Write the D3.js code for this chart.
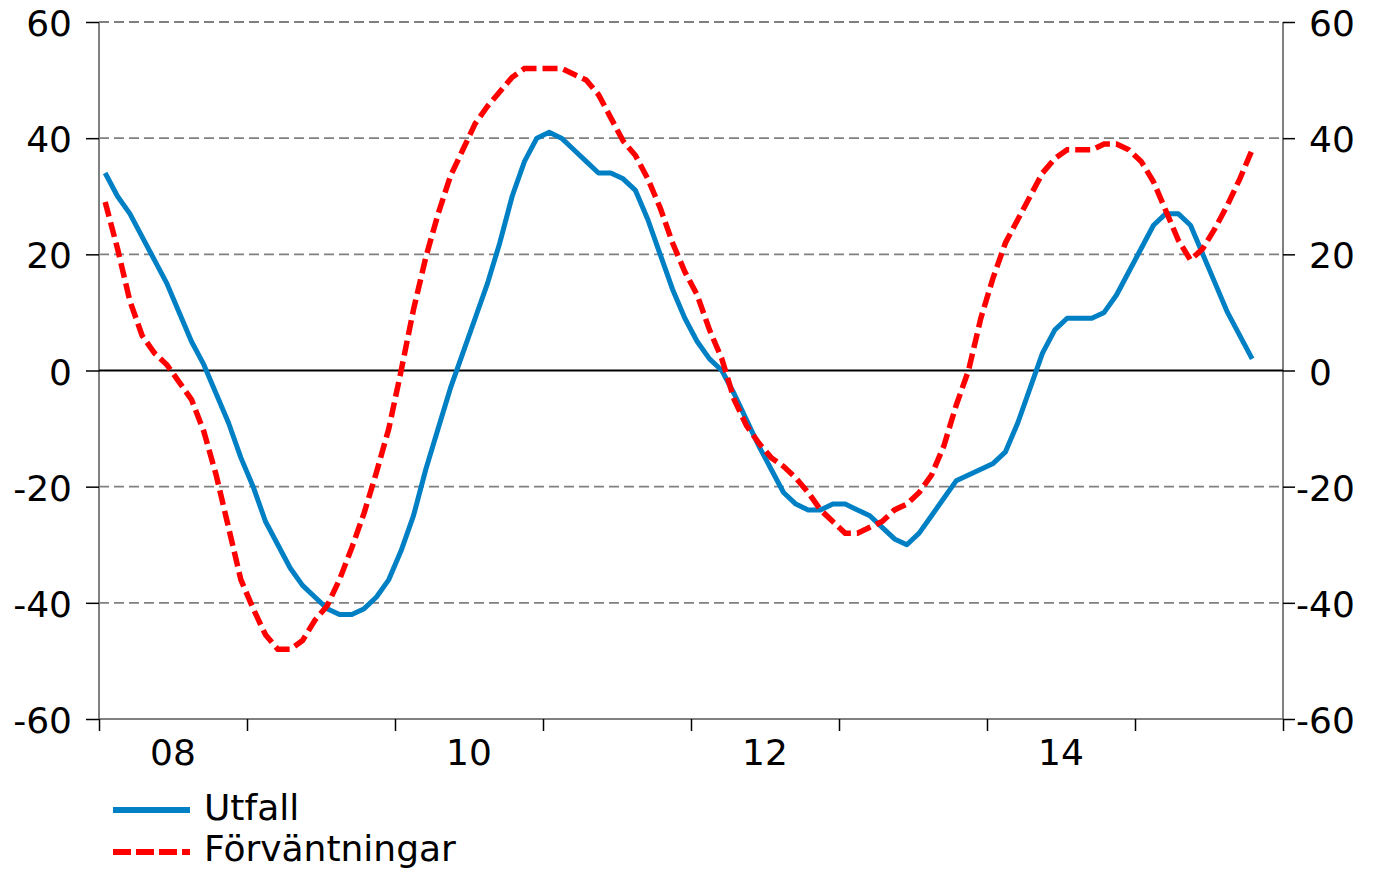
<!DOCTYPE html>
<html>
<head>
<meta charset="utf-8">
<script src="https://cdn.jsdelivr.net/npm/d3@7"></script>
<style>
  html, body { margin: 0; padding: 0; background: #fff; }
  svg { display: block; }
  text { font-family: "DejaVu Sans", Verdana, sans-serif; fill: #000; }
</style>
</head>
<body>
<svg id="chart" width="1376" height="870"></svg>
<script>
// Monthly data, Jan 2008 – Oct 2015
const utfall = [34,30,27,23,19,15,10,5,1,-4,-9,-15,-20,-26,-30,-34,-37,-39,-41,-42,-42,-41,-39,-36,
  -31,-25,-17,-10,-3,3,9,15,22,30,36,40,41,40,38,36,34,34,33,31,26,20,14,9,
  5,2,0,-4,-8.5,-13,-17,-21,-23,-24,-24,-23,-23,-24,-25,-27,-29,-30,-28,-25,-22,-19,-18,-17,
  -16,-14,-9,-3,3,7,9,9,9,10,13,17,21,25,27,27,25,20,15,10,6,2];
const forvantningar = [29,21,12,6,3,1,-2,-5,-10.5,-18,-27,-36,-41,-45.5,-48,-48,-46.5,-43,-40.5,-36,-30.5,-24.5,-17.5,-10,
  0,10.5,19.5,27,33.5,38,42.5,45.5,48,50.5,52,52,52,52,51,50,47.5,43.5,39.5,37,33,28,22,17,
  13,7,2,-5,-9.5,-12.5,-15,-16.5,-18.5,-21,-24,-26,-28,-28,-27,-26,-24,-23,-21,-18,-13,-6,
  0,9,16,22,26,30,34,36.5,38,38,38,39,39,38,36,32.5,27.5,22.5,19,21,24.5,28.5,33,38];
const yTicks = [-60,-40,-20,0,20,40,60];
const yearLabels = ["08","09","10","11","12","13","14","15"];
const shownYears = ["08","10","12","14"];
const seriesNames = ["Utfall","Förväntningar"];

const svg = d3.select("#chart");
const x = d3.scaleLinear().domain([0, 96]).range([99, 1283]);
const y = d3.scaleLinear().domain([-60, 60]).range([719, 22]);
const FS = 36;
const blue = "#0080C4", red = "#FF0000";

// gridlines
svg.append("g").selectAll("line")
  .data(yTicks.filter(d => d !== 0 && d !== -60))
  .join("line")
  .attr("x1", x(0)).attr("x2", x(96))
  .attr("y1", d => y(d)).attr("y2", d => y(d))
  .attr("stroke", "#808080").attr("stroke-width", 1.8)
  .attr("stroke-dasharray", "10,5");

// axes lines
svg.append("line").attr("x1", x(0)).attr("x2", x(0)).attr("y1", y(60)).attr("y2", y(-60))
  .attr("stroke", "#808080").attr("stroke-width", 2);
svg.append("line").attr("x1", x(96)).attr("x2", x(96)).attr("y1", y(60)).attr("y2", y(-60))
  .attr("stroke", "#808080").attr("stroke-width", 2);
svg.append("line").attr("x1", x(0)).attr("x2", x(96)).attr("y1", y(-60)).attr("y2", y(-60))
  .attr("stroke", "#808080").attr("stroke-width", 2);

// y ticks
const leftAxis = d3.axisLeft(y).tickValues(yTicks).tickSize(13).tickFormat("");
svg.append("g").attr("transform", `translate(${x(0)},0)`).call(leftAxis)
  .call(g => g.select(".domain").remove())
  .call(g => g.selectAll(".tick line").attr("stroke", "#000").attr("stroke-width", 1.5));
const rightAxis = d3.axisRight(y).tickValues(yTicks).tickSize(12).tickFormat("");
svg.append("g").attr("transform", `translate(${x(96)},0)`).call(rightAxis)
  .call(g => g.select(".domain").remove())
  .call(g => g.selectAll(".tick line").attr("stroke", "#000").attr("stroke-width", 1.5));

// x ticks
const xTickVals = d3.range(0, 97, 12);
const bottomAxis = d3.axisBottom(x).tickValues(xTickVals).tickSize(12).tickFormat("");
svg.append("g").attr("transform", `translate(0,${y(-60)})`).call(bottomAxis)
  .call(g => g.select(".domain").remove())
  .call(g => g.selectAll(".tick line").attr("stroke", "#000").attr("stroke-width", 1.5));

// y labels
svg.append("g").selectAll("text").data(yTicks).join("text")
  .attr("x", 72).attr("y", d => y(d) + 14)
  .attr("text-anchor", "end").attr("font-size", FS)
  .text(d => d);

// measure hyphen width for right labels
const tmp = svg.append("text").attr("font-size", FS).text("-");
const hyW = tmp.node().getComputedTextLength();
tmp.remove();
svg.append("g").selectAll("text").data(yTicks).join("text")
  .attr("x", d => d < 0 ? 1309 - hyW : 1309).attr("y", d => y(d) + 14)
  .attr("text-anchor", "start").attr("font-size", FS)
  .text(d => d);

// x labels
svg.append("g").selectAll("text")
  .data(yearLabels.map((l, i) => ({l, i})).filter(d => shownYears.includes(d.l)))
  .join("text")
  .attr("x", d => x(d.i * 12 + 6)).attr("y", 765)
  .attr("text-anchor", "middle").attr("font-size", FS)
  .text(d => d.l);

// zero line
svg.append("line").attr("x1", x(0)).attr("x2", x(96)).attr("y1", y(0)).attr("y2", y(0))
  .attr("stroke", "#000").attr("stroke-width", 2);

// lines
const line = d3.line().x((d, i) => x(i + 0.5)).y(d => y(d));
svg.append("path").datum(utfall).attr("d", line)
  .attr("fill", "none").attr("stroke", blue).attr("stroke-width", 5)
  .attr("stroke-linejoin", "round");
svg.append("path").datum(forvantningar).attr("d", line)
  .attr("fill", "none").attr("stroke", red).attr("stroke-width", 5.5)
  .attr("stroke-dasharray", "15,6");

// legend
const leg = svg.append("g");
leg.append("line").attr("x1", 113).attr("x2", 190).attr("y1", 810).attr("y2", 810)
  .attr("stroke", blue).attr("stroke-width", 6);
leg.append("line").attr("x1", 113).attr("x2", 190).attr("y1", 852).attr("y2", 852)
  .attr("stroke", red).attr("stroke-width", 6).attr("stroke-dasharray", "18,5");
leg.append("text").attr("x", 204).attr("y", 820).attr("font-size", FS).text(seriesNames[0]);
leg.append("text").attr("x", 204).attr("y", 861).attr("font-size", FS).text(seriesNames[1]);
</script>
</body>
</html>
